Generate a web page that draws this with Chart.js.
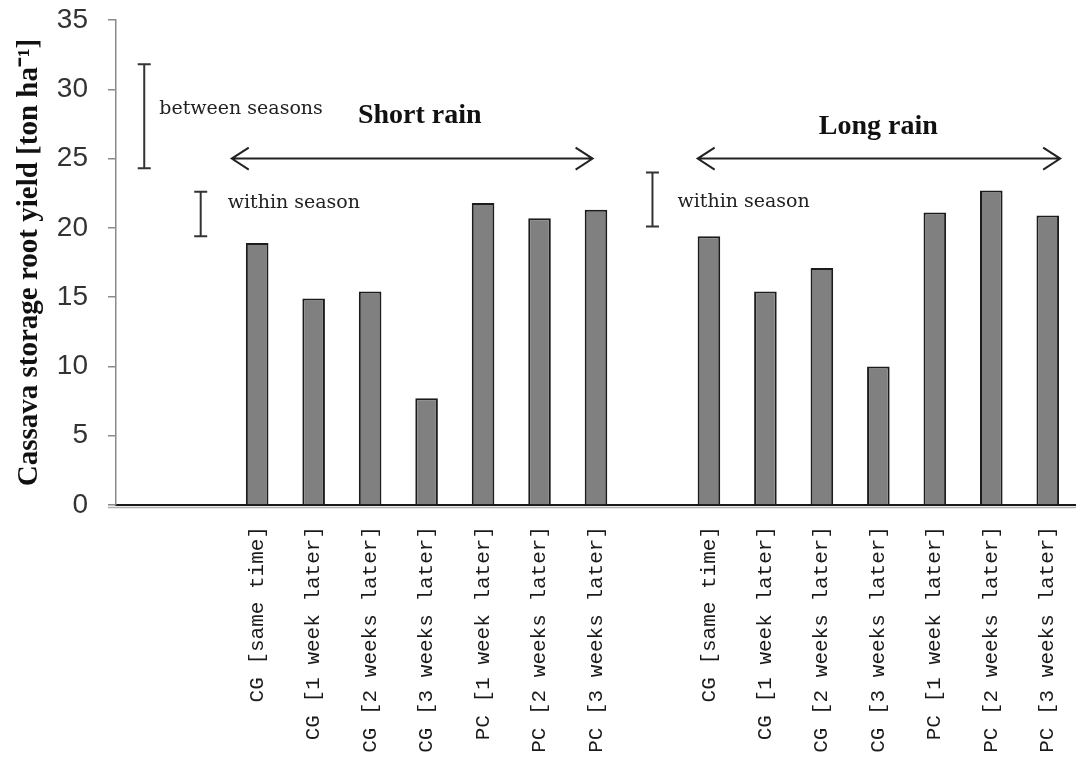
<!DOCTYPE html>
<html>
<head>
<meta charset="utf-8">
<script src="https://cdn.jsdelivr.net/npm/chart.js@4/dist/chart.umd.min.js"></script>
<style>
  html, body { margin: 0; padding: 0; background: #fff; }
  #wrap { width: 1076px; height: 757px; }
</style>
</head>
<body>
<div id="wrap"><canvas id="c" width="1076" height="757"></canvas></div>
<script>
// Planting treatments (CG = cassava/groundnut, PC = pigeon pea/cassava)
const treatments = [
  'CG [same time]', 'CG [1 week later]', 'CG [2 weeks later]', 'CG [3 weeks later]',
  'PC [1 week later]', 'PC [2 weeks later]', 'PC [3 weeks later]'
];

// Cassava storage root yield, ton per hectare
const shortRain = [18.9, 14.9, 15.4, 7.7, 21.8, 20.7, 21.3];
const longRain  = [19.4, 15.4, 17.1, 10.0, 21.1, 22.7, 20.9];

// Y axis ticks
const yTicks = [0, 5, 10, 15, 20, 25, 30, 35];

// LSD-type ranges drawn as I-beams (slot index on the category axis)
const rangeNames = ['between seasons', 'within season', 'within season'];
const rangeSlots = [0, 1, 9];
const rangeLow   = [24.3, 19.4, 20.1];
const rangeHigh  = [31.8, 22.6, 24.0];

// Season spans
const seasonNames = ['Short rain', 'Long rain'];

// Category slots: two empty slots for the ranges, a gap between the seasons
const labels = ['', '', ...treatments, '', ...treatments];
const values = [null, null, ...shortRain, null, ...longRain];

const annotationPlugin = {
  id: 'seasonAnnotations',
  afterDraw(chart, args, opts) {
    const ctx = chart.ctx;
    const xs = chart.scales.x, ys = chart.scales.y;
    const area = chart.chartArea;
    ctx.save();

    // light shadow line under the category axis
    ctx.strokeStyle = '#b0b0b0';
    ctx.lineWidth = 1.5;
    ctx.beginPath();
    ctx.moveTo(area.left - 8, area.bottom + 2.5);
    ctx.lineTo(area.right, area.bottom + 2.5);
    ctx.stroke();

    // I-beam ranges
    ctx.strokeStyle = '#333';
    ctx.lineWidth = 2;
    rangeSlots.forEach((slot, i) => {
      const x = xs.getPixelForValue(slot);
      const y1 = ys.getPixelForValue(rangeLow[i]);
      const y2 = ys.getPixelForValue(rangeHigh[i]);
      ctx.beginPath();
      ctx.moveTo(x, y1); ctx.lineTo(x, y2);
      ctx.moveTo(x - 6.5, y1); ctx.lineTo(x + 6.5, y1);
      ctx.moveTo(x - 6.5, y2); ctx.lineTo(x + 6.5, y2);
      ctx.stroke();
      const t = opts.rangeText[i];
      ctx.fillStyle = '#222';
      ctx.font = '19px "DejaVu Serif", serif';
      ctx.textAlign = 'left';
      ctx.textBaseline = 'middle';
      ctx.fillText(rangeNames[i], x + t.dx, ys.getPixelForValue(t.level));
    });

    // double-headed arrows and season titles
    seasonNames.forEach((name, i) => {
      const a = opts.arrows[i];
      const xa = xs.getPixelForValue(a.from);
      const xb = xs.getPixelForValue(a.to);
      const y = ys.getPixelForValue(a.level);
      ctx.strokeStyle = '#222';
      ctx.lineWidth = 2;
      ctx.beginPath();
      ctx.moveTo(xa, y); ctx.lineTo(xb, y);
      ctx.moveTo(xa + 17, y - 11); ctx.lineTo(xa, y); ctx.lineTo(xa + 17, y + 11);
      ctx.moveTo(xb - 17, y - 11); ctx.lineTo(xb, y); ctx.lineTo(xb - 17, y + 11);
      ctx.stroke();
      const tt = opts.titles[i];
      ctx.fillStyle = '#111';
      ctx.font = 'bold 28px "Liberation Serif", "Times New Roman", serif';
      ctx.textAlign = 'center';
      ctx.textBaseline = 'alphabetic';
      ctx.fillText(name, xs.getPixelForValue(tt.at), ys.getPixelForValue(tt.level));
    });
    ctx.restore();
  }
};

new Chart(document.getElementById('c'), {
  type: 'bar',
  data: {
    labels: labels,
    datasets: [{
      data: values,
      backgroundColor: '#808080',
      borderColor: '#1c1c1c',
      borderWidth: 2,
      barPercentage: 0.4,
      categoryPercentage: 1.0
    }]
  },
  options: {
    responsive: false,
    animation: false,
    events: [],
    layout: { padding: { top: 20, right: 0, left: 0, bottom: 0 } },
    plugins: {
      legend: { display: false },
      tooltip: { enabled: false },
      seasonAnnotations: {
        rangeText: [
          { dx: 15, level: 28.6 },
          { dx: 27, level: 21.8 },
          { dx: 25, level: 21.85 }
        ],
        arrows: [
          { from: 1.55, to: 7.94, level: 25 },
          { from: 9.8, to: 16.22, level: 25 }
        ],
        titles: [
          { at: 4.88, level: 27.6 },
          { at: 13.0, level: 26.8 }
        ]
      }
    },
    scales: {
      x: {
        grid: { display: false, drawTicks: false },
        border: { display: true, color: '#1a1a1a', width: 2 },
        ticks: {
          autoSkip: false,
          minRotation: 90,
          maxRotation: 90,
          padding: 21,
          color: '#1a1a1a',
          font: { family: '"Liberation Mono", "Courier New", monospace', size: 21 }
        },
        afterFit(scale) {
          scale.height = 252;
          scale.paddingLeft = 0;
          scale.paddingRight = 0;
        }
      },
      y: {
        min: 0,
        max: 35,
        afterBuildTicks(scale) {
          scale.ticks = yTicks.map(v => ({ value: v }));
        },
        grid: { drawOnChartArea: false, drawTicks: true, tickLength: 8, color: '#8a8a8a', lineWidth: 1.5 },
        border: { display: true, color: '#8a8a8a', width: 1.5 },
        ticks: {
          padding: 20,
          color: '#333',
          font: { family: '"Liberation Sans", sans-serif', size: 28 }
        },
        title: {
          display: true,
          text: 'Cassava storage root yield [ton ha\u207B\u00B9]',
          color: '#111',
          padding: { top: 12, bottom: 0 },
          font: { family: '"Liberation Serif", "Times New Roman", serif', size: 29, weight: 'bold' }
        },
        afterFit(scale) {
          scale.width = 116;
          scale.paddingTop = 0;
          scale.paddingBottom = 0;
        }
      }
    }
  },
  plugins: [annotationPlugin]
});
</script>
</body>
</html>
